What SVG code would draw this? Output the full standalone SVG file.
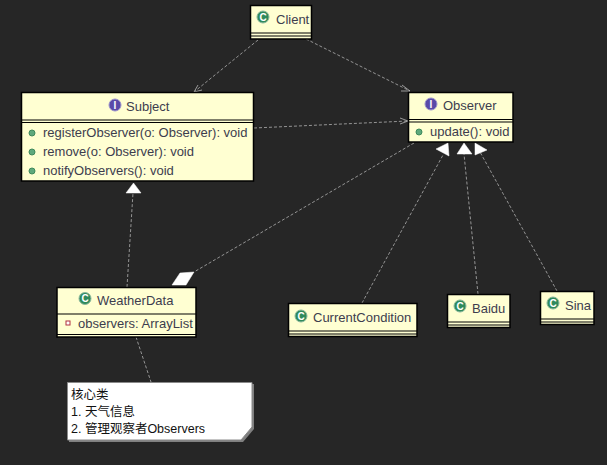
<svg xmlns="http://www.w3.org/2000/svg" width="607" height="465" viewBox="0 0 607 465">
<style>
text{font-family:"Liberation Sans","Noto Sans CJK SC",sans-serif;font-size:13px;fill:#3d3d4e}
.box{fill:#ffffd2;stroke:#000;stroke-width:1.5}
.sep{stroke:#000;stroke-width:1.2;fill:none}
.cn{fill:none;stroke:#b0b0b0;stroke-width:.8;stroke-dasharray:3 2}
.open{fill:none;stroke:#b8b8b8;stroke-width:.8}
.solid{fill:#fff;stroke:#fff;stroke-width:.5}
.ci{fill:#2f8a5c;stroke:#8ab89c}
.ii{fill:#5a4aa8;stroke:#9c94cc}
.g{font-weight:bold;font-size:10px;fill:#fff;text-anchor:middle}
.m{fill:#5fa97c;stroke:#3f8a5c}
.note{fill:#111;font-size:12.500px}
</style>
<rect width="607" height="465" fill="#262626"/>
<g id="connectors">
<path class="cn" d="M258 40L194 92"/><path class="open" d="M202 90L194 92L198 85"/>
<path class="cn" d="M306 39L410 91"/><path class="open" d="M402 85L410 91L401 91"/>
<path class="cn" d="M254 128L408 121"/><path class="open" d="M400 118L408 121L400 124"/>
<path class="cn" d="M414 143L194 272"/>
<path class="solid" d="M172 285L180 273L194 272L186 285Z"/>
<path class="cn" d="M127 287L133 193"/><path class="solid" d="M126 193L133.500 183L141 193Z"/>
<path class="cn" d="M362 303L443 155"/><path class="solid" d="M436 149L448 143L449 156Z"/>
<path class="cn" d="M478 294L464 154"/><path class="solid" d="M457 154L464 143L472 154Z"/>
<path class="cn" d="M557 291L480 152"/><path class="solid" d="M475 143L487 150L475 155Z"/>
<path class="cn" d="M136 337L151 382"/>
</g>
<g id="client">
<rect class="box" x="250.500" y="5.500" width="61" height="33.500"/>
<path class="sep" d="M251 33H311M251 36H311"/>
<circle class="ci" cx="263" cy="17" r="6"/><text class="g" x="263" y="20.500">C</text>
<text x="276" y="24">Client</text>
</g>
<g id="subject">
<rect class="box" x="21.500" y="92.500" width="232" height="88.500"/>
<path class="sep" d="M22 120H253M22 122.500H253"/>
<circle class="ii" cx="115" cy="105" r="6"/><text class="g" x="115" y="108.500">I</text>
<text x="126" y="111">Subject</text>
<circle class="m" cx="32" cy="133" r="3"/><text x="43" y="137">registerObserver(o: Observer): void</text>
<circle class="m" cx="32" cy="152" r="3"/><text x="43" y="156">remove(o: Observer): void</text>
<circle class="m" cx="32" cy="171" r="3"/><text x="43" y="175">notifyObservers(): void</text>
</g>
<g id="observer">
<rect class="box" x="408.500" y="92.500" width="104.500" height="49.500"/>
<path class="sep" d="M409 119.500H513M409 122H513"/>
<circle class="ii" cx="431" cy="104" r="6"/><text class="g" x="431" y="107.500">I</text>
<text x="443" y="110">Observer</text>
<circle class="m" cx="419" cy="132" r="3"/><text x="430" y="136">update(): void</text>
</g>
<g id="weatherdata">
<rect class="box" x="57" y="287.500" width="139" height="49.500"/>
<path class="sep" d="M57 314H196M57 334.500H196"/>
<circle class="ci" cx="85" cy="298.500" r="6"/><text class="g" x="85" y="302">C</text>
<text x="97" y="305">WeatherData</text>
<rect x="66" y="321" width="4" height="4" fill="#fff" stroke="#b03040"/>
<text x="78" y="328">observers: ArrayList</text>
</g>
<g id="currentcondition">
<rect class="box" x="288.500" y="303.500" width="128.500" height="33"/>
<path class="sep" d="M289 331H417M289 334H417"/>
<circle class="ci" cx="301" cy="316" r="6"/><text class="g" x="301" y="319.500">C</text>
<text x="313" y="322">CurrentCondition</text>
</g>
<g id="baidu">
<rect class="box" x="447.500" y="294.500" width="62.500" height="33"/>
<path class="sep" d="M448 322H510M448 325H510"/>
<circle class="ci" cx="460" cy="306" r="6"/><text class="g" x="460" y="309.500">C</text>
<text x="472" y="313">Baidu</text>
</g>
<g id="sina">
<rect class="box" x="540.500" y="291.500" width="53.500" height="33"/>
<path class="sep" d="M541 319H594M541 322H594"/>
<circle class="ci" cx="553" cy="303" r="6"/><text class="g" x="553" y="306.500">C</text>
<text x="565" y="310">Sina</text>
</g>
<g id="note">
<path d="M69 384H254V429L243 442H69Z" fill="#808080"/>
<path d="M67.500 382.500H252V427L241 440H67.500Z" fill="#fff" stroke="#8a8a8a"/>
<text class="note" x="71" y="399">核心类</text>
<text class="note" x="71" y="416">1. 天气信息</text>
<text class="note" x="71" y="433">2. 管理观察者Observers</text>
</g>
</svg>
